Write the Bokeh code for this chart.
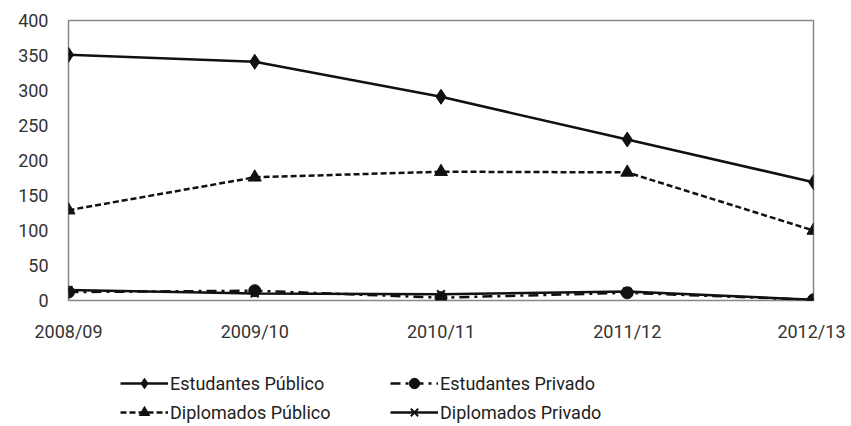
from bokeh.plotting import figure
from bokeh.layouts import column
from bokeh.models import Legend, LegendItem, FixedTicker, Range1d
from bokeh.embed import file_html
from bokeh.resources import INLINE

years = ["2008/09", "2009/10", "2010/11", "2011/12", "2012/13"]
estudantes_publico = [351, 341, 291, 230, 169]
diplomados_publico = [129, 176, 184, 183, 100]
estudantes_privado = [12, 14, 4, 11, 1]
diplomados_privado = [15, 10, 9, 13, 1]
y_ticks = [0, 50, 100, 150, 200, 250, 300, 350, 400]

FONT = "Roboto"
W = 845
x = list(range(len(years)))

p = figure(width=W, height=345, output_backend="svg", toolbar_location=None,
           x_range=Range1d(0, len(years) - 1), y_range=Range1d(0, 400))
p.min_border_left = 68
p.min_border_right = W - 813
p.min_border_top = 20
p.min_border_bottom = 45
p.xgrid.visible = False
p.ygrid.visible = False
p.outline_line_color = "#888888"
p.outline_line_width = 1.5

for ax in (p.xaxis, p.yaxis):
    ax.axis_line_color = None
    ax.major_tick_line_color = None
    ax.minor_tick_line_color = None
    ax.major_tick_out = 0
    ax.major_tick_in = 0
    ax.minor_tick_out = 0
    ax.major_label_text_font = FONT
    ax.major_label_text_font_size = "18px"
    ax.major_label_text_color = "#333333"
p.yaxis.ticker = FixedTicker(ticks=y_ticks)
p.xaxis.ticker = FixedTicker(ticks=x)
p.xaxis.major_label_overrides = {i: y for i, y in enumerate(years)}
p.yaxis.major_label_standoff = 20
p.xaxis.major_label_standoff = 20

c = "#111111"
lw = 2.5
styles = {
    "ep": dict(dash="solid", marker="diamond", size=15),
    "dp": dict(dash="6 3", marker="triangle", size=13),
    "er": dict(dash="10 5 3 5", marker="circle", size=12),
    "dr": dict(dash="solid", marker="x", size=11),
}


def draw(fig, xs, ys, key):
    s = styles[key]
    ln = fig.line(xs, ys, line_color=c, line_width=lw, line_dash=s["dash"])
    if s["marker"] == "x":
        mk = fig.scatter(xs, ys, marker="x", size=s["size"], line_color=c, line_width=2)
    else:
        mk = fig.scatter(xs, ys, marker=s["marker"], size=s["size"], color=c)
    return [ln, mk]


draw(p, x, estudantes_publico, "ep")
draw(p, x, diplomados_publico, "dp")
draw(p, x, estudantes_privado, "er")
draw(p, x, diplomados_privado, "dr")

# legend panel below the chart (same series, kept out of its view; only the legend shows)
lf = figure(width=W, height=80, output_backend="svg", toolbar_location=None,
            x_range=Range1d(100, 101), y_range=Range1d(5000, 5001))
lf.min_border_left = 68
lf.min_border_right = W - 813
lf.min_border_top = 0
lf.min_border_bottom = 0
lf.axis.visible = False
lf.grid.visible = False
lf.outline_line_color = None

l_ep = draw(lf, x, estudantes_publico, "ep")
l_dp = draw(lf, x, diplomados_publico, "dp")
l_er = draw(lf, x, estudantes_privado, "er")
l_dr = draw(lf, x, diplomados_privado, "dr")


def make_legend(items, loc):
    lg = Legend(items=items, location=loc, orientation="vertical")
    lg.label_text_font = FONT
    lg.label_text_font_size = "18px"
    lg.label_text_color = "#222222"
    lg.glyph_width = 48
    lg.glyph_height = 26
    lg.label_height = 20
    lg.label_standoff = 2
    lg.spacing = 3
    lg.padding = 0
    lg.margin = 0
    lg.border_line_color = None
    lg.background_fill_alpha = 0
    return lg


lf.add_layout(make_legend([
    LegendItem(label="Estudantes Público", renderers=l_ep),
    LegendItem(label="Diplomados Público", renderers=l_dp),
], (52, 0)))
lf.add_layout(make_legend([
    LegendItem(label="Estudantes Privado", renderers=l_er),
    LegendItem(label="Diplomados Privado", renderers=l_dr),
], (322, 0)))

layout = column(p, lf, spacing=0)
open("out.html", "w").write(file_html(layout, INLINE))
